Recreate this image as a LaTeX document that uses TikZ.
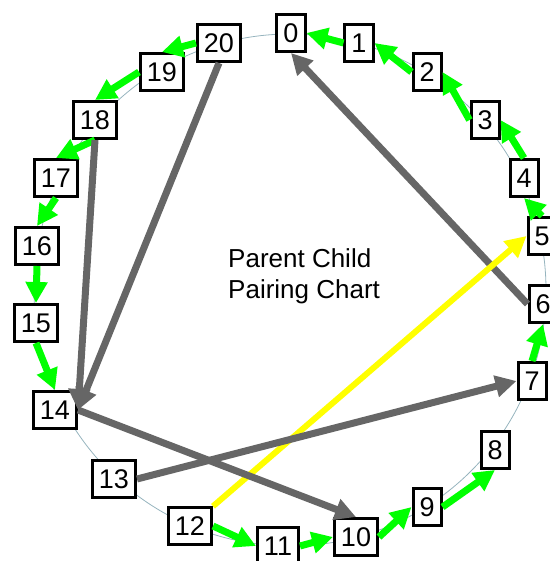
\documentclass[tikz,border=0pt]{standalone}
\usepackage{fontspec}
\setmainfont{Liberation Sans}
\usetikzlibrary{arrows.meta}
\definecolor{linkgreen}{RGB}{0,255,0}
\definecolor{linkgray}{RGB}{102,102,102}
\definecolor{linkyellow}{RGB}{255,255,0}
\definecolor{ringline}{RGB}{150,180,190}
\begin{document}
\begin{tikzpicture}[x=1pt,y=-1pt,
  member/.style={draw=black, line width=3pt, fill=white, inner xsep=6.5pt,
    inner ysep=0pt, minimum height=37pt, font=\fontsize{27}{27}\selectfont},
  caption/.style={anchor=base west, inner sep=0pt, font=\fontsize{26}{26}\selectfont},
  link/.style={line width=7pt, -{Triangle[length=21pt,width=21pt]}},
  stepup/.style={link, draw=linkgreen, fill=linkgreen},
  cross/.style={link, draw=linkgray, fill=linkgray},
  special/.style={link, line width=6pt, draw=linkyellow, fill=linkyellow},
]
\useasboundingbox (0,0) rectangle (549,561);
% faint ring behind the members
\draw[ringline, line width=0.8pt] (290,290) circle[radius=256pt];
% members of the ring
\foreach \n/\x/\y in {0/291/33, 1/359/43, 2/427/72, 3/485/120, 4/524/178,
  5/542/236, 6/543/304, 7/532/381, 8/495/450, 9/427/507, 10/356/537,
  11/278/546, 12/190/526, 13/114/479, 14/55/410, 15/36/323, 16/37/246,
  17/56/178, 18/95/120, 19/162/72, 20/219/43}
  \node[member] (n\n) at (\x,\y) {\n};
% title
\node[caption] (caption1) at (228,267) {Parent Child};
\node[caption] (caption2) at (228,298) {Pairing Chart};
% neighbour links
\draw[stepup] (n1.west) -- (n0.east);
\draw[stepup] (n2.west) -- (n1.east);
\draw[stepup] (n3.west) -- (n2.east);
\draw[stepup] (n4.north) -- (n3.east);
\draw[stepup] (n5.north) -- (n4.south);
\draw[stepup] (n7.north) -- (n6.south);
\draw[stepup] (n9.east) -- (n8.south);
\draw[stepup] (n10.east) -- (n9.west);
\draw[stepup] (n11.east) -- (n10.west);
\draw[stepup] (n12.east) -- (n11.west);
\draw[stepup] (n15.south) -- (n14.north);
\draw[stepup] (n16.south) -- (n15.north);
\draw[stepup] (n17.south) -- (n16.north);
\draw[stepup] (n18.south) -- (n17.north);
\draw[stepup] (n19.west) -- (n18.north);
\draw[stepup] (n20.west) -- (n19.north);
% cross links
\draw[cross] (n6.west) -- (n0.south);
\draw[special] (n12) -- (n5.west);
\draw[cross] (n20.south) -- (n14.east);
\draw[cross] (n18.south) -- (n14.east);
\draw[cross] (n14.east) -- (n10.north);
\draw[cross] (n13.east) -- (n7.west);
\end{tikzpicture}
\end{document}
